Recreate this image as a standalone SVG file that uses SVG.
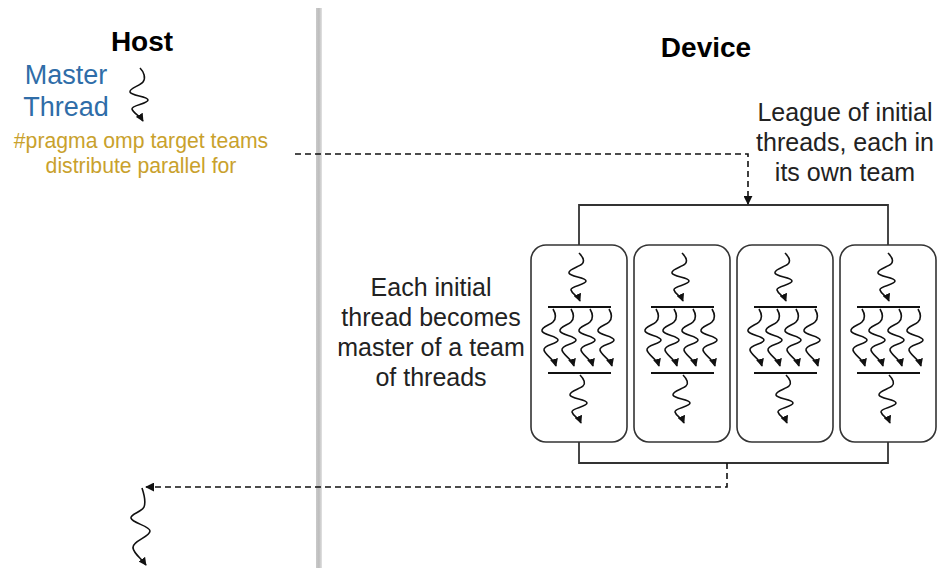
<svg xmlns="http://www.w3.org/2000/svg" xmlns:xlink="http://www.w3.org/1999/xlink" width="939" height="569" viewBox="0 0 939 569">
  <style>
    text { font-family: "Liberation Sans", Arial, sans-serif; }
    .title { font-size: 28px; font-weight: bold; fill: #000; text-anchor: middle; }
    .label { font-size: 25px; fill: #222; text-anchor: middle; }
    .master { font-size: 27px; fill: #2f6da8; text-anchor: middle; }
    .pragma { font-size: 21.2px; fill: #c9a12c; text-anchor: middle; }
    .thread { fill: none; stroke: #111; stroke-width: 1.6; marker-end: url(#tip); }
    .bar { stroke: #111; stroke-width: 1.8; }
    .team { fill: #fff; stroke: #333; stroke-width: 1.6; }
    .bracket { fill: none; stroke: #333; stroke-width: 1.8; }
    .dashed { fill: none; stroke: #111; stroke-width: 1.6; stroke-dasharray: 6 4; marker-end: url(#head); }
  </style>
  <defs>
    <marker id="tip" viewBox="0 0 10 10" refX="9" refY="5" markerWidth="8" markerHeight="8" markerUnits="userSpaceOnUse" orient="auto">
      <path d="M0,0 L10,5 L0,10 z" fill="#111"/>
    </marker>
    <marker id="head" viewBox="0 0 10 10" refX="9" refY="5" markerWidth="9" markerHeight="9" markerUnits="userSpaceOnUse" orient="auto">
      <path d="M0,0 L10,5 L0,10 z" fill="#111"/>
    </marker>
    <linearGradient id="wall" x1="0" x2="1" y1="0" y2="0">
      <stop offset="0" stop-color="#cacaca"/>
      <stop offset="0.5" stop-color="#bdbdbd"/>
      <stop offset="1" stop-color="#e2e2e2"/>
    </linearGradient>
    <!-- short thread squiggle, ~50px tall -->
    <path id="t50" class="thread" d="M0,0 C4,4 6,8 3,11 C0,14 -11,16 -10,20 C-9,24 7,24 7,28 C7,32 -9,33 -8,37 C-7,41 -1,43 1,48"/>
    <!-- team member squiggle, ~57px tall -->
    <path id="t57" class="thread" d="M0,0 C3,5 3,10 0,13 C-3,16 -12,18 -11,22 C-10,26 5,27 5,31 C5,35 -10,36 -9,41 C-8,46 1,50 3,57"/>
    <!-- one team: initial thread, fork, four members, join, continuation -->
    <g id="teamBody">
      <rect class="team" x="0" y="0" width="96" height="197" rx="15" ry="15"/>
      <use href="#t50" x="48" y="8"/>
      <line class="bar" x1="17" y1="62" x2="80" y2="62"/>
      <use href="#t57" x="22" y="64"/>
      <use href="#t57" x="40" y="64"/>
      <use href="#t57" x="59" y="64"/>
      <use href="#t57" x="78" y="64"/>
      <line class="bar" x1="17" y1="128" x2="80" y2="128"/>
      <use href="#t50" x="49" y="130"/>
    </g>
  </defs>

  <rect width="939" height="569" fill="#fff"/>

  <!-- host / device separator -->
  <rect id="divider" x="316" y="8" width="6" height="560" fill="url(#wall)"/>

  <g id="host">
    <text class="title" x="142" y="51">Host</text>
  </g>
  <g id="device">
    <text class="title" x="706" y="57">Device</text>
  </g>

  <g id="master-thread">
    <text class="master" x="66" y="84">Master</text>
    <text class="master" x="66" y="116">Thread</text>
    <path class="thread" d="M140,68 C144,72 146,78 143,82 C140,86 129,88 130,92 C131,96 148,96 148,100 C148,104 131,105 132,109 C133,113 140,116 143,121"/>
  </g>

  <g id="pragma">
    <text class="pragma" x="141" y="148">#pragma omp target teams</text>
    <text class="pragma" x="141" y="173">distribute parallel for</text>
  </g>

  <g id="league-label">
    <text class="label" x="845" y="121">League of initial</text>
    <text class="label" x="845" y="151">threads, each in</text>
    <text class="label" x="845" y="181">its own team</text>
  </g>

  <g id="team-label">
    <text class="label" x="431" y="296">Each initial</text>
    <text class="label" x="431" y="326">thread becomes</text>
    <text class="label" x="431" y="356">master of a team</text>
    <text class="label" x="431" y="386">of threads</text>
  </g>

  <g id="connectors">
    <path class="bracket" d="M579,245 V205 H888 V245"/>
    <path class="bracket" d="M579,442 V463 H888 V442"/>
    <path class="dashed" d="M295,154 H748 V204"/>
    <path class="dashed" d="M727,463 V487 H146"/>
  </g>

  <g id="team-1" transform="translate(531,245)"><use href="#teamBody"/></g>
  <g id="team-2" transform="translate(634,245)"><use href="#teamBody"/></g>
  <g id="team-3" transform="translate(737,245)"><use href="#teamBody"/></g>
  <g id="team-4" transform="translate(840,245)"><use href="#teamBody"/></g>

  <g id="host-resume">
    <path class="thread" d="M142,488 C144,494 146,502 144,507 C142,512 130,514 131,518 C132,523 150,526 150,531 C150,537 132,541 133,548 C134,554 141,558 146,565"/>
  </g>
</svg>
